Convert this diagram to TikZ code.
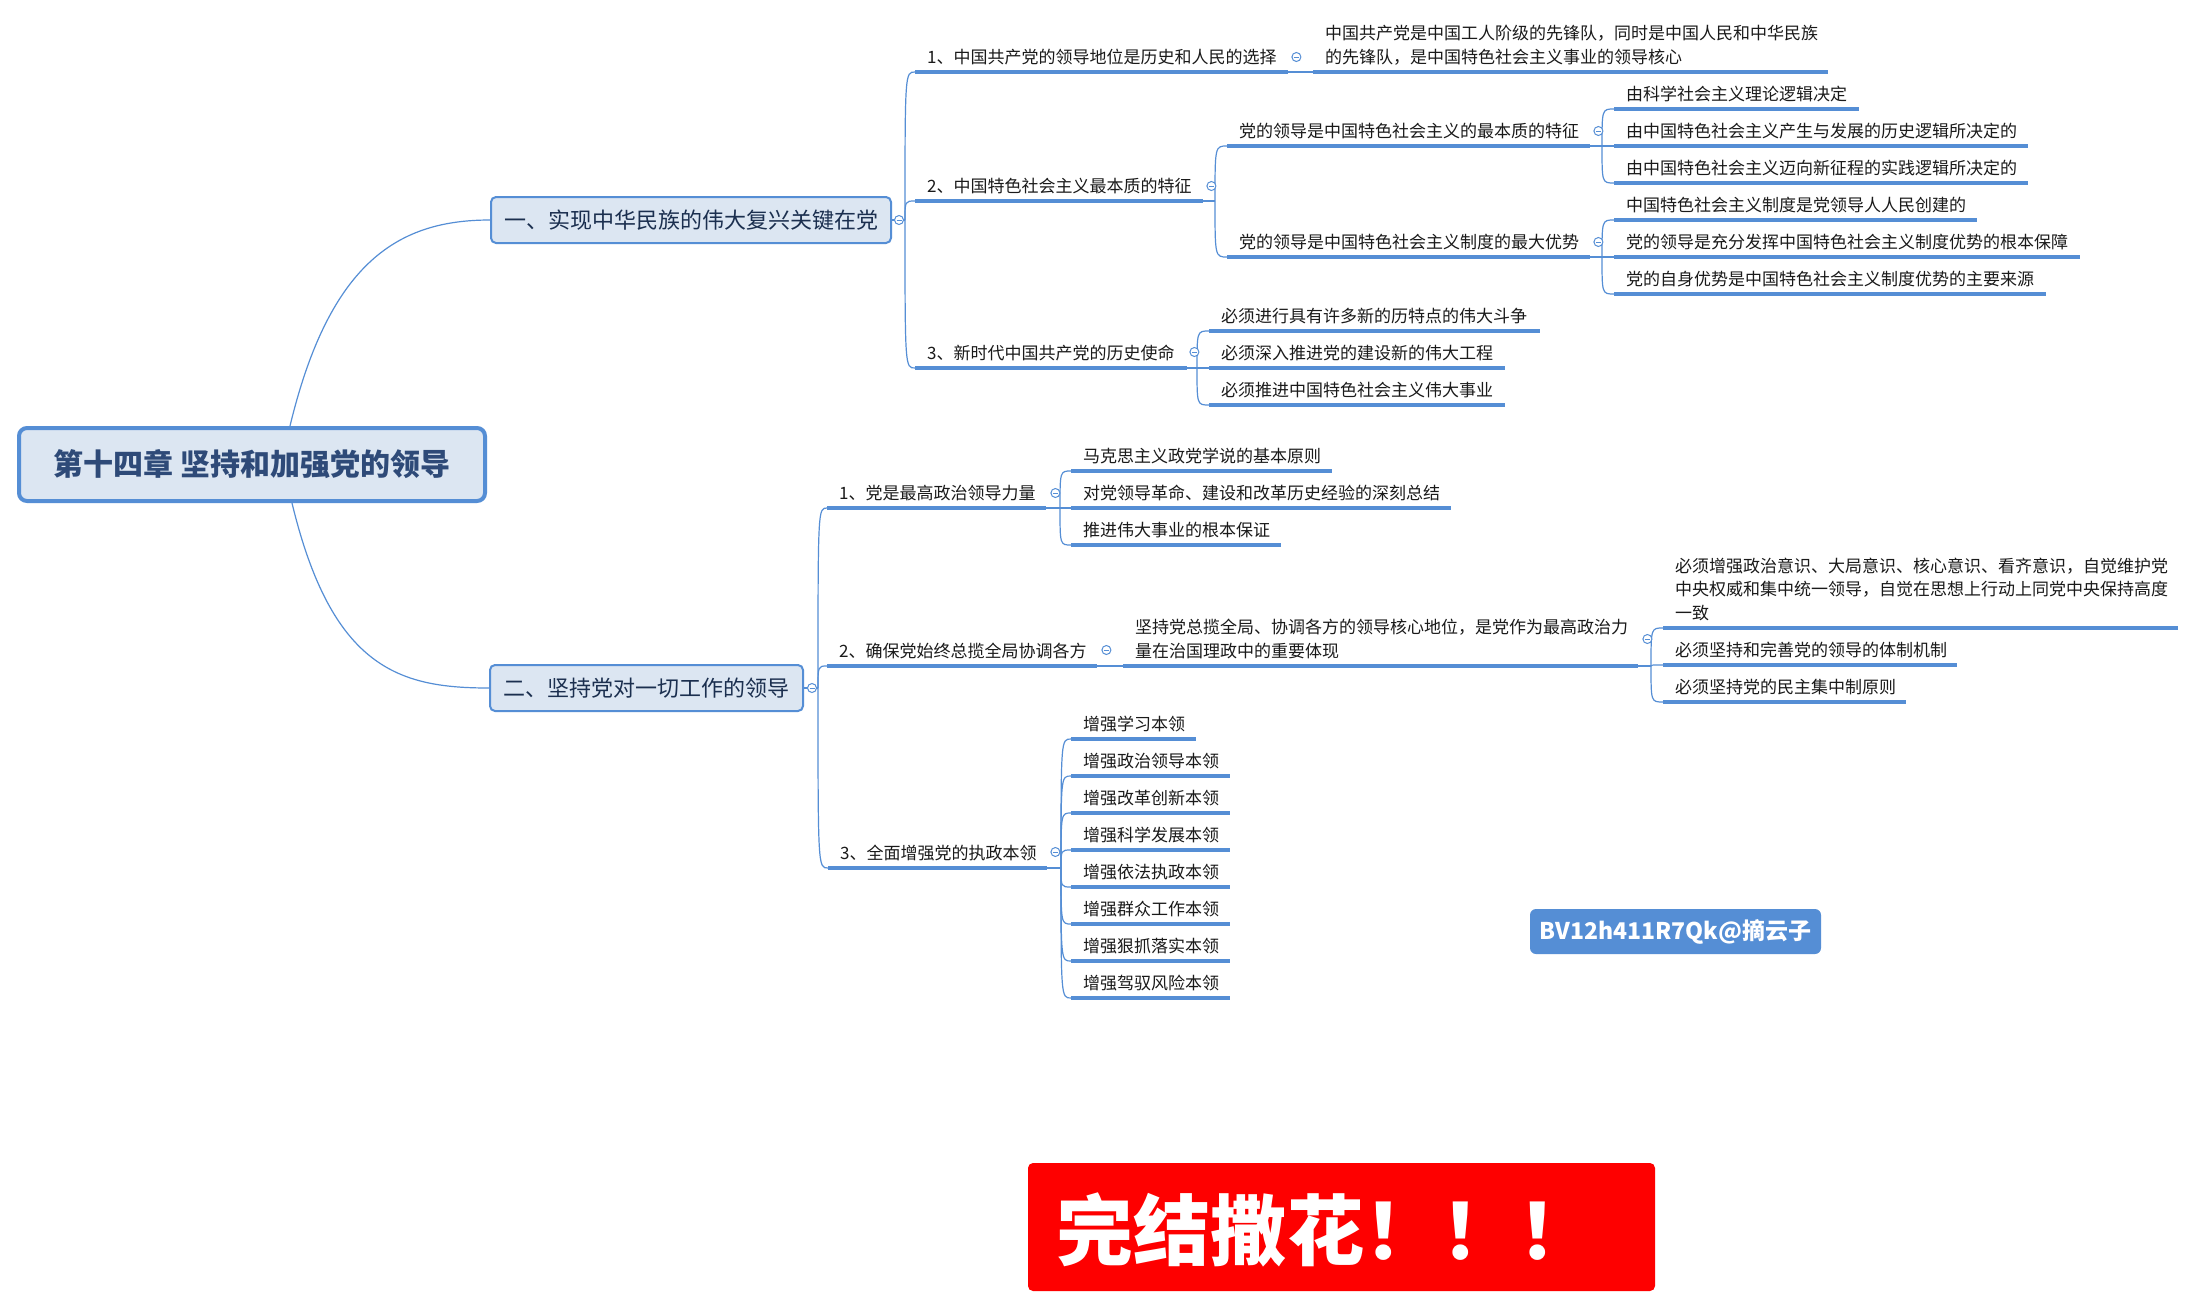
\documentclass[tikz,border=0pt]{standalone}
\usepackage{fontspec}
\newfontfamily\cjk{Noto Sans CJK SC}
\definecolor{mb}{HTML}{558ED5}
\definecolor{boxfill}{HTML}{DCE6F2}
\definecolor{txt}{HTML}{1A1A1A}
\definecolor{lvltxt}{HTML}{1B2F4F}
\definecolor{roottxt}{HTML}{2E4A78}
\definecolor{redbox}{HTML}{FE0000}
\begin{document}
\begin{tikzpicture}[x=1pt,y=-1pt,
  tp/.style={anchor=south west, inner xsep=12pt, inner ysep=0pt, text depth=8.4pt, align=left, text width=#1, font=\cjk\fontsize{17}{24}\selectfont, text=txt},
  two/.style={text depth=32.4pt},
  three/.style={text depth=55.4pt, font=\cjk\fontsize{17}{23.5}\selectfont},
  ul/.style={draw=mb, line width=3.5pt},
  cn/.style={draw=mb, line width=1.2pt},
  mainbox/.style={draw=mb, fill=boxfill, line width=2pt, rounded corners=5pt, inner sep=0pt, font=\cjk\fontsize{22}{26}\selectfont, text=lvltxt},
  rootbox/.style={draw=mb, fill=boxfill, line width=4pt, rounded corners=8pt, inner sep=0pt, font=\cjk\fontsize{30}{36}\selectfont\bfseries, text=roottxt},
  tog/.style={circle, draw=mb, fill=white, line width=1pt, inner sep=0pt, minimum size=9pt, path picture={\draw[mb,line width=1pt] ([xshift=2pt]path picture bounding box.west) -- ([xshift=-2pt]path picture bounding box.east);}}
]
\useasboundingbox (0,0) rectangle (2196,1307);
\fill[white] (0,0) rectangle (2196,1307);

% root and main topics
\node[rootbox, minimum width=466pt, minimum height=73pt] (root) at (252,464.5) {第十四章 坚持和加强党的领导};
\node[mainbox, minimum width=400pt, minimum height=46pt] (n1) at (691,220) {一、实现中华民族的伟大复兴关键在党};
\node[mainbox, minimum width=313pt, minimum height=46pt] (n2) at (646.5,688) {二、坚持党对一切工作的领导};

\coordinate (rt) at (290,426);
\coordinate (rb) at (292,503);
\draw[cn] (rt) .. controls (330,260) and (400,220) .. (n1.west);
\draw[cn] (rb) .. controls (332,669) and (400,688) .. (n2.west);

% branch one
\node[tp=349pt] (a1) at (915,72) {1、中国共产党的领导地位是历史和人民的选择};
\node[tp=264pt] (a2) at (915,201) {2、中国特色社会主义最本质的特征};
\node[tp=248pt] (a3) at (915,368) {3、新时代中国共产党的历史使命};

\node[tp=491pt, two] (b1) at (1313,72) {中国共产党是中国工人阶级的先锋队，同时是中国人民和中华民族\\的先锋队，是中国特色社会主义事业的领导核心};

\node[tp=339pt] (c1) at (1227,146) {党的领导是中国特色社会主义的最本质的特征};
\node[tp=339pt] (c2) at (1227,257) {党的领导是中国特色社会主义制度的最大优势};

\node[tp=221pt] (d1) at (1614,109) {由科学社会主义理论逻辑决定};
\node[tp=390pt] (d2) at (1614,146) {由中国特色社会主义产生与发展的历史逻辑所决定的};
\node[tp=390pt] (d3) at (1614,183) {由中国特色社会主义迈向新征程的实践逻辑所决定的};
\node[tp=339pt] (d4) at (1614,220) {中国特色社会主义制度是党领导人人民创建的};
\node[tp=442pt] (d5) at (1614,257) {党的领导是充分发挥中国特色社会主义制度优势的根本保障};
\node[tp=408pt] (d6) at (1614,294) {党的自身优势是中国特色社会主义制度优势的主要来源};

\node[tp=307pt] (e1) at (1209,331) {必须进行具有许多新的历特点的伟大斗争};
\node[tp=272pt] (e2) at (1209,368) {必须深入推进党的建设新的伟大工程};
\node[tp=272pt] (e3) at (1209,405) {必须推进中国特色社会主义伟大事业};

% branch two
\node[tp=195pt] (f1) at (827,508) {1、党是最高政治领导力量};
\node[tp=246pt] (f2) at (827,666) {2、确保党始终总揽全局协调各方};
\node[tp=195pt] (f3) at (828,868) {3、全面增强党的执政本领};

\node[tp=237pt] (g1) at (1071,471) {马克思主义政党学说的基本原则};
\node[tp=356pt] (g2) at (1071,508) {对党领导革命、建设和改革历史经验的深刻总结};
\node[tp=186pt] (g3) at (1071,545) {推进伟大事业的根本保证};

\node[tp=491pt, two] (h1) at (1123,666) {坚持党总揽全局、协调各方的领导核心地位，是党作为最高政治力\\量在治国理政中的重要体现};

\node[tp=491pt, three] (i1) at (1663,628) {必须增强政治意识、大局意识、核心意识、看齐意识，自觉维护党\\中央权威和集中统一领导，自觉在思想上行动上同党中央保持高度\\一致};
\node[tp=270pt] (i2) at (1663,665) {必须坚持和完善党的领导的体制机制};
\node[tp=219pt] (i3) at (1663,702) {必须坚持党的民主集中制原则};

\node[tp=101pt] (k1) at (1071,739) {增强学习本领};
\node[tp=135pt] (k2) at (1071,776) {增强政治领导本领};
\node[tp=135pt] (k3) at (1071,813) {增强改革创新本领};
\node[tp=135pt] (k4) at (1071,850) {增强科学发展本领};
\node[tp=135pt] (k5) at (1071,887) {增强依法执政本领};
\node[tp=135pt] (k6) at (1071,924) {增强群众工作本领};
\node[tp=135pt] (k7) at (1071,961) {增强狠抓落实本领};
\node[tp=135pt] (k8) at (1071,998) {增强驾驭风险本领};

% underlines
\foreach \n in {a1,a2,a3,b1,c1,c2,d1,d2,d3,d4,d5,d6,e1,e2,e3,f1,f2,f3,g1,g2,g3,h1,i1,i2,i3,k1,k2,k3,k4,k5,k6,k7,k8}
  \draw[ul] (\n.south west) -- (\n.south east);

% spines
\coordinate (s1) at (905,220);
\draw[cn] (n1.east) -- (s1);
\foreach \c in {a1,a2,a3} \draw[cn] (s1) .. controls (s1 |- \c.south west) .. (\c.south west);

\draw[cn] (a1.south east) -- (b1.south west);

\coordinate (s2) at (1215,201);
\draw[cn] (a2.south east) -- (s2);
\foreach \c in {c1,c2} \draw[cn] (s2) .. controls (s2 |- \c.south west) .. (\c.south west);

\coordinate (s3) at (1602,146);
\draw[cn] (c1.south east) -- (s3);
\foreach \c in {d1,d2,d3} \draw[cn] (s3) .. controls (s3 |- \c.south west) .. (\c.south west);

\coordinate (s4) at (1602,257);
\draw[cn] (c2.south east) -- (s4);
\foreach \c in {d4,d5,d6} \draw[cn] (s4) .. controls (s4 |- \c.south west) .. (\c.south west);

\coordinate (s5) at (1197,368);
\draw[cn] (a3.south east) -- (s5);
\foreach \c in {e1,e2,e3} \draw[cn] (s5) .. controls (s5 |- \c.south west) .. (\c.south west);

\coordinate (s6) at (818,688);
\draw[cn] (n2.east) -- (s6);
\foreach \c in {f1,f2,f3} \draw[cn] (s6) .. controls (s6 |- \c.south west) .. (\c.south west);

\coordinate (s7) at (1060,508);
\draw[cn] (f1.south east) -- (s7);
\foreach \c in {g1,g2,g3} \draw[cn] (s7) .. controls (s7 |- \c.south west) .. (\c.south west);

\draw[cn] (f2.south east) -- (h1.south west);

\coordinate (s8) at (1651,666);
\draw[cn] (h1.south east) -- (s8);
\foreach \c in {i1,i2,i3} \draw[cn] (s8) .. controls (s8 |- \c.south west) .. (\c.south west);

\coordinate (s9) at (1061,868);
\draw[cn] (f3.south east) -- (s9);
\foreach \c in {k1,k2,k3,k4,k5,k6,k7,k8} \draw[cn] (s9) .. controls (s9 |- \c.south west) .. (\c.south west);

% toggles
\node[tog] (t1) at ([xshift=7pt]n1.east) {};
\node[tog] (t2) at ([xshift=8pt]n2.east) {};
\node[tog] (ta1) at ([shift={(8,-15)}]a1.south east) {};
\node[tog] (ta2) at ([shift={(8,-15)}]a2.south east) {};
\node[tog] (ta3) at ([shift={(7,-16)}]a3.south east) {};
\node[tog] (tc1) at ([shift={(8,-15)}]c1.south east) {};
\node[tog] (tc2) at ([shift={(8,-15)}]c2.south east) {};
\node[tog] (tf1) at ([shift={(9,-15)}]f1.south east) {};
\node[tog] (tf2) at ([shift={(9,-16)}]f2.south east) {};
\node[tog] (tf3) at ([shift={(8,-16)}]f3.south east) {};
\node[tog] (th1) at ([shift={(9,-27)}]h1.south east) {};

% labels
\node[fill=mb, rounded corners=6pt, minimum width=291pt, minimum height=45pt, inner sep=0pt, text=white, font=\cjk\fontsize{23}{28}\selectfont\bfseries] (bv) at (1675.5,931.5) {BV12h411R7Qk@摘云子};
\node[fill=redbox, rounded corners=5pt, minimum width=627pt, minimum height=128pt, inner sep=0pt] (red) at (1341.5,1227) {};
\node[anchor=west, inner sep=0pt, text=white, font=\cjk\fontsize{77}{82}\selectfont\bfseries] (fin) at (1056,1230) {完结撒花！！！};
\end{tikzpicture}
\end{document}
